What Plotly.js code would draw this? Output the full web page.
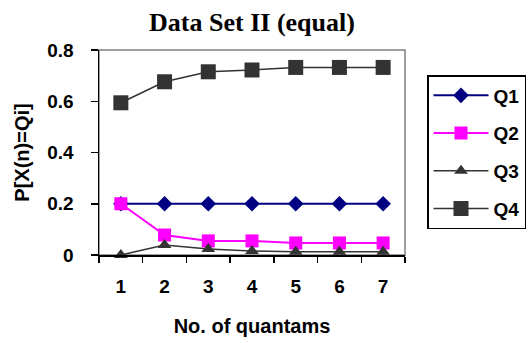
<!DOCTYPE html>
<html>
<head>
<meta charset="utf-8">
<script src="https://cdn.plot.ly/plotly-3.0.1.min.js"></script>
<style>
  html, body { margin: 0; padding: 0; background: #ffffff; }
  #chart { width: 532px; height: 343px; }
</style>
</head>
<body>
<div id="chart"></div>
<script>
// Probability of being in state Qi after n quantams
const quantams = ['1', '2', '3', '4', '5', '6', '7'];
const q1 = [0.2, 0.2, 0.2, 0.2, 0.2, 0.2, 0.2];
const q2 = [0.2, 0.078, 0.055, 0.055, 0.047, 0.047, 0.047];
const q3 = [0.0, 0.039, 0.023, 0.016, 0.013, 0.013, 0.013];
const q4 = [0.594, 0.676, 0.715, 0.722, 0.732, 0.732, 0.732];

const seriesNames = ['Q1', 'Q2', 'Q3', 'Q4'];
const seriesValues = [q1, q2, q3, q4];
const seriesStyle = [
  { color: '#000080', symbol: 'diamond', size: 12, width: 2 },
  { color: '#FF00FF', symbol: 'square', size: 13, width: 2 },
  { color: '#333333', symbol: 'triangle-up', size: 12, width: 1.5 },
  { color: '#333333', symbol: 'square', size: 15, width: 1.5 }
];

const sans = 'Liberation Sans, Arial, sans-serif';
const tickFont = { family: sans, size: 19, color: '#000000', weight: 'bold' };
const axisTitleFont = { family: sans, size: 20, color: '#000000', weight: 'bold' };

const traces = seriesNames.map((name, i) => ({
  type: 'scatter',
  mode: 'lines+markers',
  name: name,
  legendgroup: name,
  x: quantams,
  y: seriesValues[i],
  cliponaxis: false,
  line: { color: seriesStyle[i].color, width: seriesStyle[i].width },
  marker: { color: seriesStyle[i].color, symbol: seriesStyle[i].symbol, size: seriesStyle[i].size, line: { width: 0 } }
}));

const layout = {
  width: 532,
  height: 343,
  margin: { l: 99, r: 127, t: 50, b: 88 },
  paper_bgcolor: '#ffffff',
  plot_bgcolor: '#ffffff',
  showlegend: true,
  title: {
    text: 'Data Set II (equal)',
    font: { family: 'Liberation Serif, Times New Roman, serif', size: 26, color: '#000000', weight: 'bold' },
    x: 252 / 532, xanchor: 'center', xref: 'container',
    y: 1 - 22 / 343, yanchor: 'middle', yref: 'container'
  },
  xaxis: {
    type: 'category',
    range: [-0.5, 6.5],
    tickson: 'boundaries',
    ticks: 'outside',
    ticklen: 6,
    tickwidth: 1.5,
    tickcolor: '#000000',
    showline: true,
    linecolor: '#000000',
    linewidth: 1.5,
    showgrid: false,
    zeroline: false,
    tickfont: tickFont,
    ticklabelstandoff: 14,
    title: { text: 'No. of quantams', font: axisTitleFont, standoff: 22 }
  },
  yaxis: {
    range: [0, 0.8],
    dtick: 0.2,
    tick0: 0,
    ticks: 'outside',
    ticklen: 7,
    tickwidth: 1.5,
    tickcolor: '#000000',
    showline: true,
    linecolor: '#000000',
    linewidth: 1.5,
    showgrid: false,
    zeroline: false,
    tickfont: tickFont,
    ticklabelstandoff: 13,
    title: { text: 'P[X(n)=Qi]', font: axisTitleFont, standoff: 12 }
  },
  shapes: [{
    type: 'rect', xref: 'paper', yref: 'paper', x0: 0, x1: 1, y0: 0, y1: 1,
    line: { color: '#808080', width: 1.5 }, layer: 'below'
  }],
  legend: {
    x: 427 / 532, xref: 'container', xanchor: 'left',
    y: 1 - 75 / 343, yref: 'container', yanchor: 'top',
    bordercolor: '#000000',
    borderwidth: 1.5,
    bgcolor: '#ffffff',
    font: tickFont,
    traceorder: 'grouped',
    tracegroupgap: 10,
    itemwidth: 55
  }
};

Plotly.newPlot('chart', traces, layout, { displayModeBar: false, staticPlot: true });
</script>
</body>
</html>
